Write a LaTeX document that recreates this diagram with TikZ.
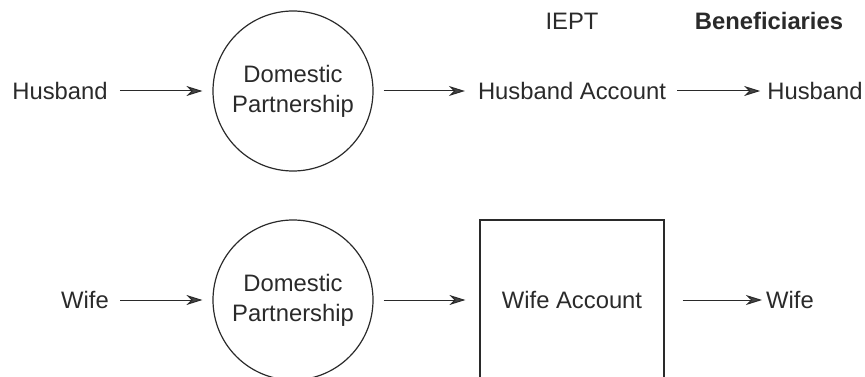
\documentclass[tikz,border=0pt]{standalone}
\usepackage{fontspec}
\setmainfont{Liberation Sans}
\usetikzlibrary{arrows.meta}
\definecolor{ink}{HTML}{2A2A2A}
\definecolor{tipc}{HTML}{444444}
\begin{document}
\begin{tikzpicture}[x=1pt,y=-1pt,
  font=\fontsize{23.8}{30}\selectfont,
  every node/.style={text=ink},
  lbl/.style={inner sep=0pt},
  disc/.style={circle,draw=ink,line width=1.2pt,minimum size=160pt,inner sep=0pt,align=center},
  acct/.style={draw=ink,line width=1.2pt,minimum width=184pt,minimum height=160pt,inner sep=0pt},
  flow/.style={draw=ink,line width=1pt,-{Stealth[length=16pt,width=10pt,inset=5pt,fill=tipc]}}]
\useasboundingbox (0,0) rectangle (865,377);
\clip (0,0) rectangle (865,377);
% header
\node[lbl] (iept) at (572,21) {IEPT};
\node[lbl,font=\fontsize{23.8}{30}\selectfont\bfseries] (ben) at (769,21) {Beneficiaries};
% top row
\node[lbl] (h) at (60,91) {Husband};
\node[disc] (dp1) at (293,91) {Domestic\\Partnership};
\node[lbl] (ha) at (572,91) {Husband Account};
\node[lbl] (hb) at (815,91) {Husband};
% bottom row
\node[lbl] (w) at (85,300) {Wife};
\node[disc] (dp2) at (293,300) {Domestic\\Partnership};
\node[acct] (wa) at (572,300) {Wife Account};
\node[lbl] (wb) at (790,300) {Wife};
% connectors
\draw[flow,shorten <=12pt,shorten >=10pt] (h) -- (dp1);
\draw[flow,shorten <=10pt,shorten >=13pt] (dp1) -- (ha);
\draw[flow,shorten <=11pt,shorten >=7pt] (ha) -- (hb);
\draw[flow,shorten <=11pt,shorten >=10pt] (w) -- (dp2);
\draw[flow,shorten <=10pt,shorten >=14pt] (dp2) -- (wa);
\draw[flow,shorten <=18pt,shorten >=4pt] (wa) -- (wb);
\end{tikzpicture}
\end{document}
